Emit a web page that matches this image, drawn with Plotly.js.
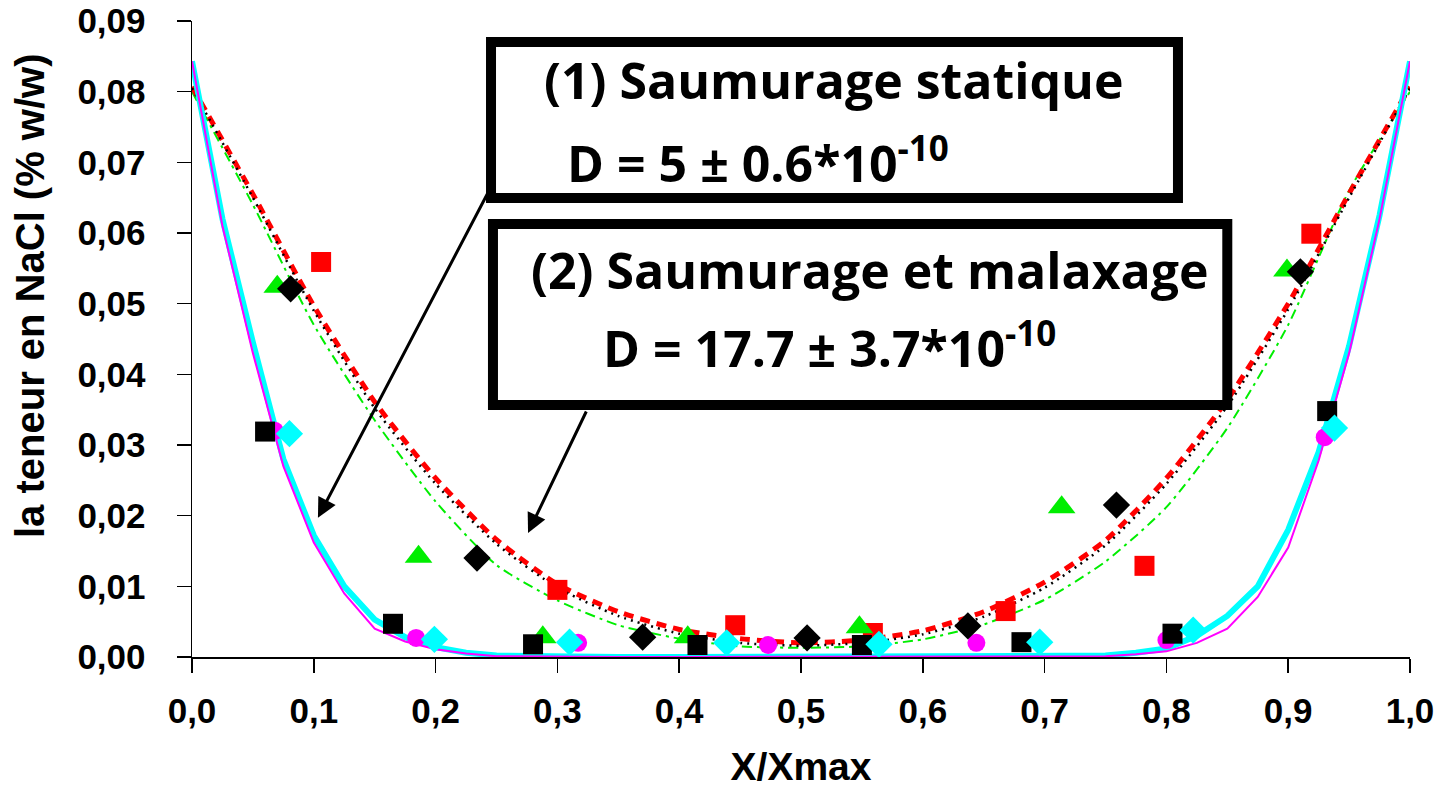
<!DOCTYPE html>
<html>
<head>
<meta charset="utf-8">
<script src="https://cdn.plot.ly/plotly-3.0.1.min.js"></script>
<style>html,body{margin:0;padding:0;background:#fff;}#chart{width:1439px;height:788px;}</style>
</head>
<body>
<div id="chart"></div>
<script>
// ---- data ----
var xFit = [0,0.05,0.10,0.15,0.20,0.25,0.30,0.35,0.40,0.45,0.50,0.55,0.60,0.65,0.70,0.75,0.80,0.85,0.90,0.95,1.00];
var redFit   = [0.0807,0.0655,0.0497,0.0361,0.0253,0.0166,0.0103,0.0064,0.0039,0.0026,0.0020,0.0024,0.0037,0.0064,0.0106,0.0165,0.0253,0.0364,0.0500,0.0656,0.0807];
var blackFit = [0.0805,0.0650,0.0490,0.0352,0.0245,0.0160,0.0098,0.0058,0.0033,0.0020,0.0016,0.0020,0.0032,0.0057,0.0098,0.0158,0.0245,0.0355,0.0492,0.0650,0.0805];
var greenFit = [0.0800,0.0640,0.0470,0.0335,0.0220,0.0130,0.0080,0.0045,0.0026,0.0015,0.0013,0.0015,0.0025,0.0046,0.0081,0.0135,0.0212,0.0324,0.0470,0.0660,0.0800];

var xFit2 = [0,0.025,0.05,0.075,0.10,0.125,0.15,0.175,0.20,0.225,0.25,0.30,0.35,0.40,0.45,0.50,0.55,0.60,0.65,0.70,0.75,0.775,0.80,0.825,0.85,0.875,0.90,0.925,0.95,0.975,1.00];
var cyanFit    = [0.0843,0.0620,0.0445,0.0280,0.0172,0.0100,0.0053,0.0028,0.0014,0.0006,0.0002,0,0,0,0,0,0,0,0,0,0.0002,0.0006,0.0012,0.0030,0.0058,0.0100,0.0180,0.0290,0.0440,0.0625,0.0843];
var magentaFit = [0.0843,0.0610,0.0430,0.0270,0.0162,0.0090,0.0040,0.0022,0.0011,0.0005,0.0001,0,0,0,0,0,0,0,0,0,0.0001,0.0004,0.0008,0.0020,0.0040,0.0085,0.0155,0.0278,0.0430,0.0620,0.0843];

var redSqX = [0.106,0.300,0.446,0.559,0.668,0.782,0.919];
var redSqY = [0.0559,0.0095,0.0045,0.0034,0.0065,0.0129,0.0599];
var greenTriX = [0.070,0.186,0.288,0.407,0.548,0.714,0.899];
var greenTriY = [0.0524,0.0142,0.0028,0.0028,0.0042,0.0212,0.0547];
var blackDiaX = [0.081,0.234,0.370,0.505,0.637,0.759,0.910];
var blackDiaY = [0.0521,0.0140,0.0028,0.0027,0.0044,0.0215,0.0545];
var blackSqX = [0.060,0.165,0.280,0.415,0.550,0.681,0.805,0.932];
var blackSqY = [0.0319,0.0047,0.0018,0.0017,0.0017,0.0021,0.0033,0.0348];
var cyanDiaX = [0.080,0.199,0.310,0.439,0.564,0.696,0.822,0.938];
var cyanDiaY = [0.0316,0.0025,0.0021,0.0020,0.0018,0.0021,0.0038,0.0324];
var magCircX = [0.068,0.184,0.317,0.473,0.644,0.800,0.930];
var magCircY = [0.0320,0.0027,0.0020,0.0017,0.0020,0.0024,0.0311];

var xTickVals = [0,0.1,0.2,0.3,0.4,0.5,0.6,0.7,0.8,0.9,1.0];
var yTickVals = [0,0.01,0.02,0.03,0.04,0.05,0.06,0.07,0.08,0.09];

var box1Line1 = '(1) Saumurage statique';
var box1Line2 = 'D = 5 ± 0.6*10<sup>-10</sup>';
var box2Line1 = '(2) Saumurage et malaxage';
var box2Line2 = 'D = 17.7 ± 3.7*10<sup>-10</sup>';
var xTitle = 'X/Xmax';
var yTitle = 'la teneur en NaCl (% w/w)';

// ---- traces ----
var GREEN = '#00ee00';
var traces = [
  {x:xFit, y:greenFit, mode:'lines', line:{color:GREEN, width:2, dash:'10px,5px,3px,5px', shape:'spline', smoothing:0.6}},
  {x:xFit, y:redFit, mode:'lines', line:{color:'#ff0000', width:5, dash:'10px,7px', shape:'spline', smoothing:0.6}},
  {x:xFit, y:blackFit, mode:'lines', line:{color:'#000000', width:2.5, dash:'2px,5px', shape:'spline', smoothing:0.6}},
  {x:xFit2, y:cyanFit, mode:'lines', line:{color:'#00ffff', width:6}},
  {x:xFit2, y:magentaFit, mode:'lines', line:{color:'#ff00ff', width:2}},
  {x:magCircX, y:magCircY, mode:'markers', marker:{symbol:'circle', size:18, color:'#ff00ff'}, cliponaxis:false},
  {x:redSqX, y:redSqY, mode:'markers', marker:{symbol:'square', size:20, color:'#ff0000'}, cliponaxis:false},
  {x:greenTriX, y:greenTriY, mode:'markers', marker:{symbol:'triangle-up', size:24, color:GREEN}, cliponaxis:false},
  {x:blackDiaX, y:blackDiaY, mode:'markers', marker:{symbol:'diamond', size:21, color:'#000000'}, cliponaxis:false},
  {x:blackSqX, y:blackSqY, mode:'markers', marker:{symbol:'square', size:20, color:'#000000'}, cliponaxis:false},
  {x:cyanDiaX, y:cyanDiaY, mode:'markers', marker:{symbol:'diamond', size:21, color:'#00ffff'}, cliponaxis:false}
];

var axisFont = {family:'Liberation Sans, Arial, sans-serif', size:35, color:'#000', weight:'bold'};
var boxFont = {family:'Open Sans, sans-serif', size:50, color:'#000', weight:'bold'};

var layout = {
  width:1439, height:788,
  margin:{l:192, r:29, t:21, b:131},
  paper_bgcolor:'#fff', plot_bgcolor:'#fff',
  showlegend:false,
  separators:', ',
  xaxis:{range:[0,1], tickvals:xTickVals, tickformat:'.1f', showgrid:false, zeroline:false,
    showline:true, linecolor:'#000', linewidth:1.5, ticks:'outside', ticklen:14, tickcolor:'#000', tickwidth:1.5,
    tickfont:axisFont, ticklabelstandoff:8,
    title:{text:xTitle, font:{family:'Liberation Sans, Arial, sans-serif', size:39, color:'#000', weight:'bold'}, standoff:28}},
  yaxis:{range:[0,0.09], tickvals:yTickVals, tickformat:'.2f', showgrid:false, zeroline:false,
    showline:true, linecolor:'#000', linewidth:1.5, ticks:'outside', ticklen:14, tickcolor:'#000', tickwidth:1.5,
    tickfont:axisFont, ticklabelstandoff:24},
  shapes:[
    {type:'rect', xref:'paper', yref:'paper', x0:0.2455, x1:0.8095, y0:0.7217, y1:0.9670, line:{color:'#000', width:10}, fillcolor:'#fff', layer:'above'},
    {type:'rect', xref:'paper', yref:'paper', x0:0.2471, x1:0.8500, y0:0.3962, y1:0.6808, line:{color:'#000', width:10}, fillcolor:'#fff', layer:'above'}
  ],
  annotations:[
    {xref:'paper', yref:'paper', x:-0.133, y:0.5676, text:yTitle, textangle:-90, showarrow:false, xanchor:'center', yanchor:'middle',
      font:{family:'Liberation Sans, Arial, sans-serif', size:40, color:'#000', weight:'bold'}},
    {xref:'paper', yref:'paper', x:0.2870, y:0.9065, text:box1Line1, showarrow:false, xanchor:'left', yanchor:'middle', font:boxFont},
    {xref:'paper', yref:'paper', x:0.3065, y:0.7800, text:box1Line2, showarrow:false, xanchor:'left', yanchor:'middle', font:boxFont},
    {xref:'paper', yref:'paper', x:0.2765, y:0.6085, text:box2Line1, showarrow:false, xanchor:'left', yanchor:'middle', font:boxFont},
    {xref:'paper', yref:'paper', x:0.3360, y:0.4900, text:box2Line2, showarrow:false, xanchor:'left', yanchor:'middle', font:boxFont},
    {xref:'x', yref:'y', axref:'x', ayref:'y', x:0.1034, y:0.0197, ax:0.2463, ay:0.0668, text:'', showarrow:true,
      arrowhead:2, arrowsize:1.3, arrowwidth:3, arrowcolor:'#000', standoff:0, startstandoff:0},
    {xref:'x', yref:'y', axref:'x', ayref:'y', x:0.2759, y:0.01755, ax:0.3243, ay:0.03495, text:'', showarrow:true,
      arrowhead:2, arrowsize:1.3, arrowwidth:3, arrowcolor:'#000', standoff:0, startstandoff:0}
  ]
};

Plotly.newPlot('chart', traces, layout, {staticPlot:true, displayModeBar:false});
</script>
</body>
</html>
